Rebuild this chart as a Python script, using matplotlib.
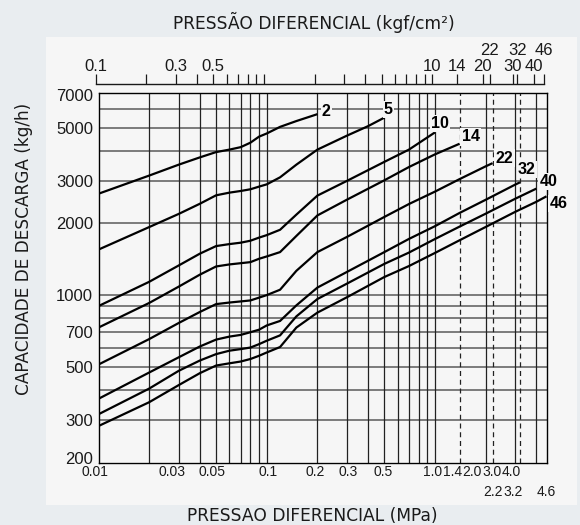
import matplotlib
matplotlib.use("Agg")
import matplotlib.pyplot as plt
import matplotlib.transforms as mtransforms
from matplotlib.patches import Rectangle
from matplotlib.ticker import NullFormatter, NullLocator

# =========================================================
# DATA
# =========================================================

set_labels = ["2", "5", "10", "14", "22", "32", "40", "46"]

p_low = [0.01, 0.02, 0.03, 0.04, 0.05, 0.06, 0.07, 0.08, 0.09, 0.1]

p_2 = p_low + [0.12, 0.15, 0.2]
q_2 = [2650, 3155, 3505, 3758, 3955, 4050, 4147, 4330, 4588, 4730,
       5040, 5330, 5695]

p_5 = p_low + [0.12, 0.15, 0.2, 0.3, 0.4, 0.5]
q_5 = [1549, 1923, 2183, 2406, 2610, 2678, 2721, 2766, 2838, 2900,
       3103, 3505, 4050, 4634, 5074, 5508]

p_10 = p_low + [0.12, 0.15, 0.2, 0.3, 0.5, 0.7, 1.0]
q_10 = [900, 1136, 1330, 1489, 1602, 1633, 1655, 1687, 1738, 1780,
        1874, 2168, 2603, 3000, 3600, 4050, 4780]

p_14 = p_low + [0.12, 0.15, 0.2, 0.3, 0.5, 0.7, 1.0, 1.4]
q_14 = [732, 927, 1085, 1217, 1317, 1343, 1359, 1373, 1418, 1450,
        1512, 1766, 2151, 2504, 3015, 3425, 3870, 4285]

p_22 = p_low + [0.12, 0.15, 0.2, 0.3, 0.5, 0.7, 1.0, 1.4, 2.0, 2.2]
q_22 = [513, 655, 765, 850, 917, 931, 941, 950, 976, 1000,
        1053, 1263, 1512, 1750, 2120, 2400, 2705, 3050, 3448, 3556]

p_32 = p_low + [0.12, 0.15, 0.2, 0.3, 0.5, 0.7, 1.0, 1.4, 2.0, 3.0, 3.2]
q_32 = [369, 475, 550, 610, 652, 671, 682, 700, 717, 747,
        780, 906, 1075, 1250, 1512, 1716, 1940, 2203, 2500, 2894, 2957]

p_40 = p_low + [0.12, 0.15, 0.2, 0.3, 0.5, 0.7, 1.0, 1.4, 2.0, 3.0, 4.0]
q_40 = [318, 407, 483, 533, 567, 586, 595, 604, 624, 645,
        679, 815, 963, 1117, 1350, 1505, 1715, 1932, 2187, 2526, 2783]

p_46 = p_low + [0.12, 0.15, 0.2, 0.3, 0.5, 0.7, 1.0, 1.4, 2.0, 3.0, 4.0,
                4.6]
q_46 = [284, 357, 421, 472, 508, 519, 528, 541, 558, 576,
        607, 732, 845, 980, 1190, 1322, 1500, 1694, 1925, 2227, 2452, 2585]

curves_p = [p_2, p_5, p_10, p_14, p_22, p_32, p_40, p_46]
curves_q = [q_2, q_5, q_10, q_14, q_22, q_32, q_40, q_46]

# bottom axis (MPa), two rows of labels
mpa_ticks = [0.01, 0.03, 0.05, 0.1, 0.2, 0.3, 0.5, 1.0, 1.4, 2.0, 3.0, 4.0]
mpa_labels = ["0.01", "0.03", "0.05", "0.1", "0.2", "0.3", "0.5", "1.0",
              "1.4", "2.0", "3.0", "4.0"]
mpa_ticks2 = [2.2, 3.2, 4.6]
mpa_labels2 = ["2.2", "3.2", "4.6"]
mpa_grid = [0.02, 0.03, 0.04, 0.05, 0.06, 0.07, 0.08, 0.09,
            0.1, 0.2, 0.3, 0.4, 0.5, 0.6, 0.7, 0.8, 0.9, 1.0, 2.0, 3.0, 4.0]
mpa_dashed = [1.4, 2.2, 3.2]

# top ruler (kgf/cm2), two rows of labels
kgf_ticks = [0.1, 0.3, 0.5, 10, 14, 20, 30, 40]
kgf_labels = ["0.1", "0.3", "0.5", "10", "14", "20", "30", "40"]
kgf_ticks2 = [22, 32, 46]
kgf_labels2 = ["22", "32", "46"]
kgf_minor = [0.2, 0.4, 0.6, 0.7, 0.8, 0.9, 1, 2, 3, 4, 5, 6, 7, 8, 9,
             22, 32, 46]

# left axis (kg/h)
cap_ticks = [200, 300, 500, 700, 1000, 2000, 3000, 5000, 7000]
cap_grid = [300, 400, 500, 600, 700, 800, 900, 1000,
            2000, 3000, 4000, 5000, 6000]

# =========================================================
# STYLE
# =========================================================

W, H = 580, 525
OUTER = "#e9edf0"
PANEL = "#f6f6f6"
INK = "#1a1a1a"

# label nudges in pixels for the crowded labels
mpa_label_dx = [-4, -7, -4, 1, -2, 1, -1, -2, -7.5, -14, -23.5, -25]
mpa_label2_dx = [0, -7, 0]
cap_label_dy = [4, 0, 0, 0, 0, 0, 0, 0, -2]
# curve label offsets from curve end, pixels
label_offsets = [(9, 3), (4, 8), (5, 9), (11, 7), (12, 5), (7, 13),
                 (12, 7), (12, -7)]


def nudge(labels, dxs, dys=None):
    dys = dys or [0] * len(dxs)
    for lbl, dx, dy in zip(labels, dxs, dys):
        lbl.set_transform(lbl.get_transform()
                          + mtransforms.ScaledTranslation(
                              dx / 100, dy / 100, fig.dpi_scale_trans))


fig = plt.figure(figsize=(W / 100, H / 100), dpi=100, facecolor=OUTER)

fig.patches.append(Rectangle((46 / W, 1 - 505 / H), (577 - 46) / W,
                             (505 - 37) / H, transform=fig.transFigure,
                             facecolor=PANEL, edgecolor="none", zorder=-5))

# =========================================================
# MAIN AXES
# =========================================================

ax = fig.add_axes([98.5 / W, 1 - 462.5 / H, 448 / W, 369.8 / H])
ax.set_zorder(2)
ax.set_facecolor(PANEL)
ax.set_xscale("log")
ax.set_yscale("log")
ax.set_xlim(0.01, 4.6)
ax.set_ylim(200, 7000)

for v in cap_grid:
    ax.axhline(v, color="#5a5a5a", lw=1.1, zorder=1)
for v in mpa_grid:
    ax.axvline(v, color="#222222", lw=0.9, zorder=1)
for v in mpa_dashed:
    ax.axvline(v, color="#222222", lw=0.9, ls=(0, (4, 3)), zorder=1)

for p, q, lab, (dx, dy) in zip(curves_p, curves_q, set_labels,
                               label_offsets):
    ax.plot(p, q, color="black", lw=1.6, zorder=3,
            solid_joinstyle="round", solid_capstyle="butt")
    ax.annotate(lab, (p[-1], q[-1]), xytext=(dx, dy),
                textcoords="offset pixels", ha="center", va="center",
                fontsize=11.5, fontweight="bold", family="Liberation Sans",
                color="black", annotation_clip=False, zorder=4,
                bbox=dict(boxstyle="square,pad=0.08", fc=PANEL, ec="none"))

ax.xaxis.set_minor_locator(NullLocator())
ax.yaxis.set_minor_locator(NullLocator())
ax.set_xticks(mpa_ticks)
ax.set_xticklabels(mpa_labels)
ax.set_yticks(cap_ticks)
ax.set_yticklabels([str(v) for v in cap_ticks])
ax.tick_params(axis="x", length=0, pad=2, labelsize=10, labelcolor=INK)
ax.tick_params(axis="y", length=0, pad=4, labelsize=12, labelcolor=INK)
for lbl in ax.get_xticklabels() + ax.get_yticklabels():
    lbl.set_family("Liberation Sans")
nudge(ax.get_xticklabels(), mpa_label_dx)
nudge(ax.get_yticklabels(), [0] * len(cap_ticks), cap_label_dy)

for s in ax.spines.values():
    s.set_color("black")
    s.set_linewidth(1.0)

# second row of MPa labels
ax2 = ax.secondary_xaxis("bottom")
ax2.set_xticks(mpa_ticks2)
ax2.set_xticklabels(mpa_labels2)
ax2.xaxis.set_minor_locator(NullLocator())
ax2.spines["bottom"].set_visible(False)
ax2.tick_params(axis="x", length=0, pad=16.5, labelsize=10, labelcolor=INK)
for lbl in ax2.get_xticklabels():
    lbl.set_family("Liberation Sans")
nudge(ax2.get_xticklabels(), mpa_label2_dx)

# =========================================================
# TOP RULER (kgf/cm2)
# =========================================================

axt = fig.add_axes([95.5 / W, 1 - 84 / H, 448.3 / W, 0.0005])
axt.patch.set_visible(False)
axt.set_xscale("log")
axt.set_xlim(0.1, 46)
for side in ["left", "right", "bottom"]:
    axt.spines[side].set_visible(False)
axt.spines["top"].set_color(INK)
axt.spines["top"].set_linewidth(1.0)
axt.yaxis.set_visible(False)
axt.xaxis.set_ticks_position("top")
axt.set_xticks(kgf_ticks)
axt.set_xticklabels(kgf_labels)
axt.set_xticks(kgf_minor, minor=True)
axt.xaxis.set_minor_formatter(NullFormatter())
axt.tick_params(axis="x", which="both", direction="out", length=7.2,
                width=0.9, color=INK, pad=-0.5, labelsize=12, labelcolor=INK)
for lbl in axt.get_xticklabels():
    lbl.set_family("Liberation Sans")

# second row of kgf/cm2 labels
axt2 = axt.secondary_xaxis("top")
axt2.set_xticks(kgf_ticks2)
axt2.set_xticklabels(kgf_labels2)
axt2.xaxis.set_minor_locator(NullLocator())
axt2.spines["top"].set_visible(False)
axt2.tick_params(axis="x", length=0, pad=18.5, labelsize=12, labelcolor=INK)
for lbl in axt2.get_xticklabels():
    lbl.set_family("Liberation Sans")

# =========================================================
# TITLES
# =========================================================

fig.text(314 / W, 1 - 22 / H, "PRESSÃO DIFERENCIAL (kgf/cm²)",
         ha="center", va="center", fontsize=12.3, color=INK,
         family="DejaVu Sans")
fig.text(312 / W, 1 - 516 / H, "PRESSAO DIFERENCIAL (MPa)",
         ha="center", va="center", fontsize=12.3, color=INK,
         family="DejaVu Sans")
fig.text(24 / W, 1 - 249 / H, "CAPACIDADE DE DESCARGA (kg/h)",
         ha="center", va="center", rotation=90, fontsize=12.2, color=INK,
         family="DejaVu Sans")

fig.savefig("out.png", dpi=100, facecolor=OUTER)
